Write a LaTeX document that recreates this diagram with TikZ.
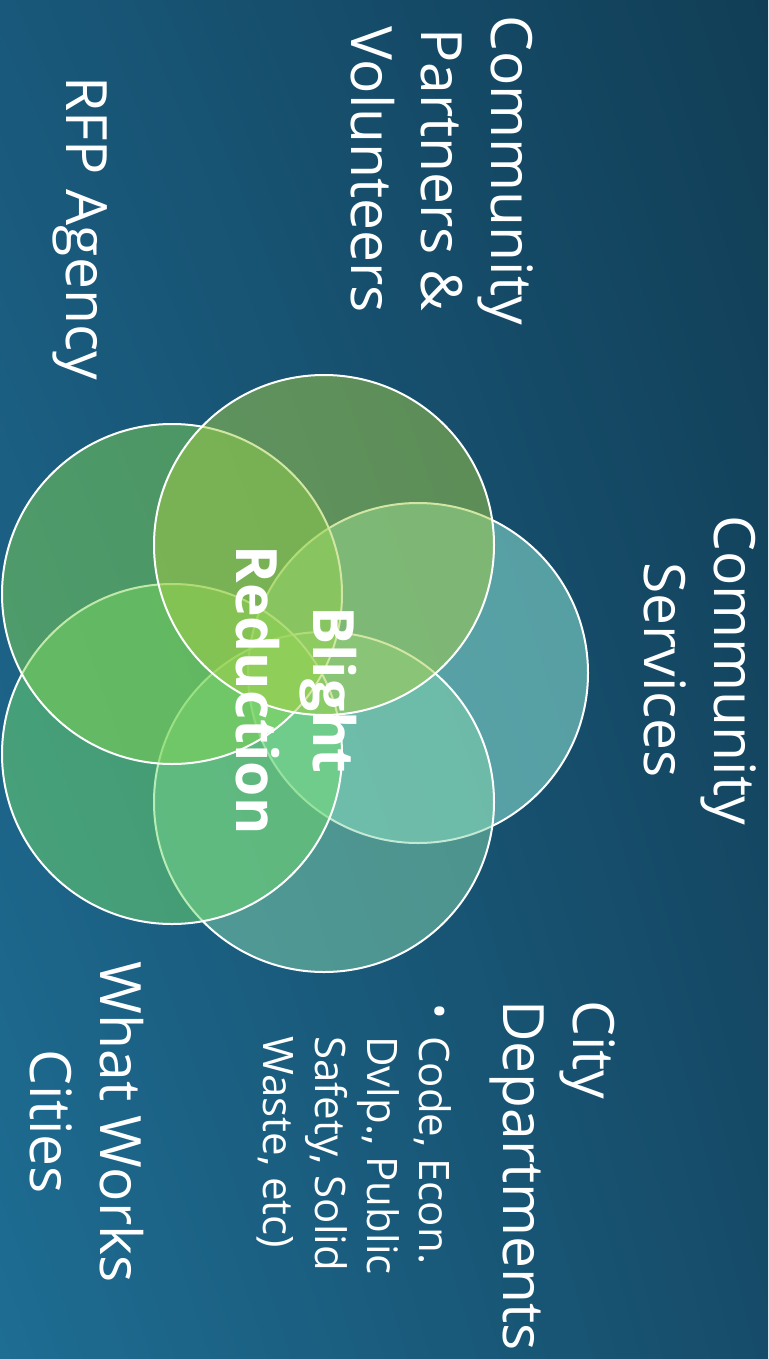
\documentclass[tikz,border=0pt]{standalone}
\usepackage{fontspec}
\setmainfont{Open Sans}
\usetikzlibrary{positioning}
\usetikzlibrary{shadings}

\definecolor{bgul}{HTML}{19587A}
\definecolor{bgur}{HTML}{113E56}
\definecolor{bgll}{HTML}{1E6D93}
\definecolor{bglr}{HTML}{164C69}
\definecolor{petalA}{HTML}{A5CE46}
\definecolor{petalB}{HTML}{81D552}
\definecolor{petalC}{HTML}{98F2DD}
\definecolor{petalD}{HTML}{70DC6D}
\definecolor{petalE}{HTML}{84D4AB}

\begin{document}
\begin{tikzpicture}[x=1pt,y=1pt,
    petal/.style={draw=white, line width=2pt, fill opacity=0.5},
    label text/.style={text=white, rotate=-90, inner sep=0pt, align=center,
        font=\fontsize{57}{70}\selectfont}]

		% Background of the slide
		\shade[upper left=bgul, upper right=bgur, lower left=bgll, lower right=bglr] (0,0) rectangle (768,-1359);
		\useasboundingbox (0,0) rectangle (768,-1359);

		% Define the centres of the circles
		\coordinate (partners) at (324,-545);
		\coordinate (rfp) at (172,-594);
		\coordinate (services) at (418,-673);
		\coordinate (works) at (172,-754);
		\coordinate (city) at (324,-802);

        % Draw the circles, lowest first
        \foreach \point/\col in {services/petalC, city/petalE, works/petalD, rfp/petalB, partners/petalA}
        \filldraw[petal, fill=\col] (\point) circle (170pt);

        % Labels round the circles
        \node[label text] (cpv) at (442,-170) {Community\\Partners \&\\Volunteers};
        \node[label text] (agency) at (80,-228) {RFP Agency};
        \node[label text] (cserv) at (700,-670) {Community\\Services};
        \node[label text] (wwc) at (87,-1122) {What Works\\Cities};
        \node[label text, align=left, anchor=north west] (citydep) at (616,-1000) {City\\Departments};
        \node[label text, anchor=base west, font=\fontsize{42}{52}\selectfont] (bullet) at (424,-1003) {•};
        \node[label text, align=left, anchor=north west, font=\fontsize{42}{52}\selectfont] (codes) at (452,-1036) {Code, Econ.\\Dvlp., Public\\Safety, Solid\\Waste, etc)};

        % Label in the middle
        \node[label text, font=\fontsize{57}{77}\bfseries] (blight) at (296,-690) {Blight\\Reduction};
     \end{tikzpicture}
\end{document}
